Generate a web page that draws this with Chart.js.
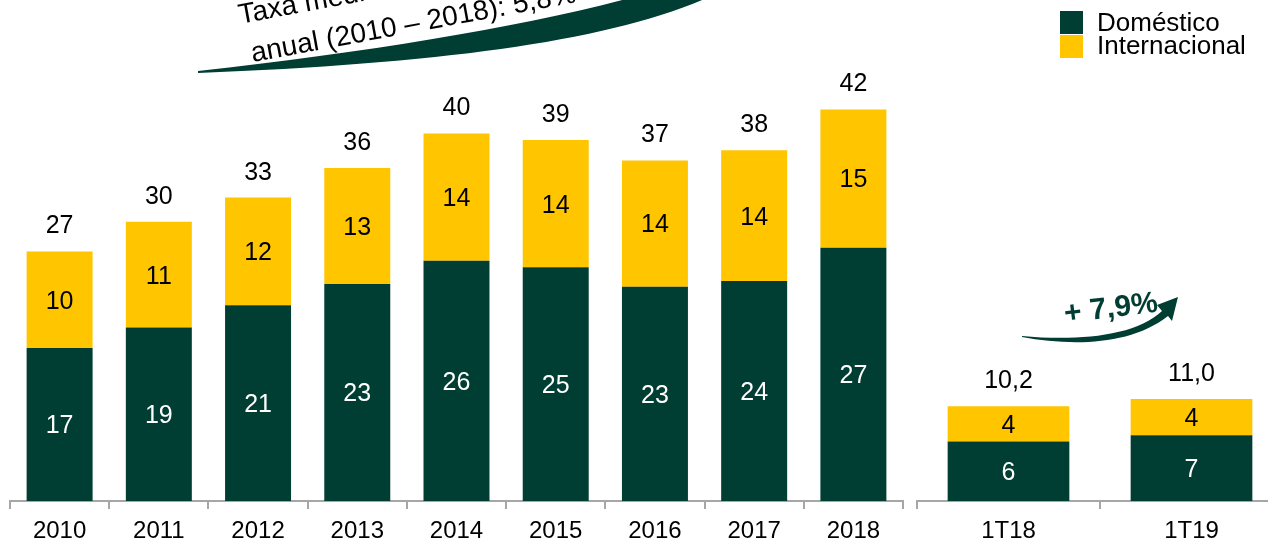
<!DOCTYPE html>
<html>
<head>
<meta charset="utf-8">
<script src="https://cdn.jsdelivr.net/npm/chart.js@4.4.1/dist/chart.umd.min.js"></script>
<style>
  html, body { margin: 0; padding: 0; background: #fff; overflow: hidden; width: 1268px; height: 539px; }
  #anual { position: absolute; left: 0; top: 0; }
  #trim { position: absolute; left: 900px; top: 0; }
</style>
</head>
<body>
<canvas id="anual" width="910" height="539"></canvas>
<canvas id="trim" width="400" height="539"></canvas>
<script>
// dados (bilhoes)
const anos = ["2010", "2011", "2012", "2013", "2014", "2015", "2016", "2017", "2018"];
const domesticoAno = [16.5, 18.7, 21.1, 23.4, 25.9, 25.2, 23.1, 23.7, 27.3];
const internacionalAno = [10.4, 11.4, 11.6, 12.5, 13.7, 13.7, 13.6, 14.1, 14.9];

const trimestres = ["1T18", "1T19"];
const domesticoTri = [6.4, 7.1];
const internacionalTri = [3.8, 3.9];

const textoTaxa = ["Taxa média de crescimento", "anual (2010 – 2018): 5,8%"];
const textoTri = "+ 7,9%";

const verde = '#003d33';
const amarelo = '#ffc600';
const fonte = '"Liberation Sans", Arial, sans-serif';

function makeRotulos(fmt) {
  return {
    id: 'rotulos',
    afterDatasetsDraw(chart) {
      const ctx = chart.ctx;
      ctx.save();
      ctx.font = '25px ' + fonte;
      ctx.textAlign = 'center';
      ctx.textBaseline = 'middle';
      chart.data.datasets.forEach((ds, di) => {
        const meta = chart.getDatasetMeta(di);
        meta.data.forEach((bar, i) => {
          const p = bar.getProps(['x', 'y', 'base'], true);
          ctx.fillStyle = ds.corTexto;
          ctx.fillText(String(Math.round(ds.data[i])), p.x, (p.y + p.base) / 2 + 2);
        });
      });
      const topo = chart.getDatasetMeta(chart.data.datasets.length - 1);
      topo.data.forEach((bar, i) => {
        const total = chart.data.datasets.reduce((s, ds) => s + ds.data[i], 0);
        ctx.fillStyle = '#000';
        ctx.fillText(fmt(total), bar.x, bar.y - 25);
      });
      ctx.restore();
    }
  };
}

// seta curva + texto da taxa anual
const taxaAnual = {
  id: 'taxaAnual',
  afterDraw(chart) {
    const ctx = chart.ctx;
    ctx.save();
    ctx.translate(415, 32);
    ctx.rotate(-10.5 * Math.PI / 180);
    ctx.font = '28px ' + fonte;
    ctx.fillStyle = '#000';
    ctx.textAlign = 'center';
    ctx.textBaseline = 'alphabetic';
    ctx.fillText(textoTaxa[0], 0, -40);
    ctx.fillText(textoTaxa[1], 0, 0);
    ctx.restore();

    ctx.save();
    ctx.fillStyle = verde;
    ctx.beginPath();
    ctx.moveTo(198, 73);
    ctx.bezierCurveTo(450, 63, 620, 40, 720, -8);
    ctx.lineTo(720, -30);
    ctx.bezierCurveTo(600, 14, 420, 46, 198, 71);
    ctx.closePath();
    ctx.fill();
    ctx.restore();
  }
};

// legenda + seta do trimestre
const extrasTri = {
  id: 'extrasTri',
  afterDraw(chart) {
    const ctx = chart.ctx;
    ctx.save();
    const ys = [11, 35];
    const yt = [24, 47];
    chart.data.datasets.forEach((ds, i) => {
      ctx.fillStyle = ds.backgroundColor;
      ctx.fillRect(160, ys[i], 23, 23);
      ctx.fillStyle = '#000';
      ctx.font = '26px ' + fonte;
      ctx.textAlign = 'left';
      ctx.textBaseline = 'middle';
      ctx.fillText(ds.label, 197, yt[i]);
    });

    ctx.fillStyle = verde;
    ctx.beginPath();
    ctx.moveTo(122, 337);
    ctx.bezierCurveTo(170, 346, 230, 346, 268, 316);
    ctx.lineTo(272, 321);
    ctx.lineTo(278, 297);
    ctx.lineTo(257, 305);
    ctx.lineTo(262, 311);
    ctx.bezierCurveTo(235, 337, 175, 341, 122, 336);
    ctx.closePath();
    ctx.fill();

    ctx.translate(211, 309);
    ctx.rotate(-7 * Math.PI / 180);
    ctx.font = 'bold 30px ' + fonte;
    ctx.textAlign = 'center';
    ctx.textBaseline = 'middle';
    ctx.fillText(textoTri, 0, 0);
    ctx.restore();
  }
};

function opcoes(padLeft, padRight) {
  return {
    responsive: false,
    animation: false,
    layout: { padding: { left: padLeft, right: padRight, top: 0, bottom: 0 } },
    plugins: { legend: { display: false }, tooltip: { enabled: false } },
    scales: {
      x: {
        stacked: true,
        afterFit: (scale) => { scale.height = 38; },
        grid: { offset: true, drawOnChartArea: false, drawTicks: true, tickLength: 8, color: '#a6a6a6', lineWidth: 2 },
        border: { display: true, color: '#a6a6a6', width: 2 },
        ticks: { padding: 8, color: '#000', font: { family: fonte, size: 24 } }
      },
      y: { stacked: true, display: false, min: 0, max: 54 }
    }
  };
}

function series(dom, intl) {
  return [
    { label: 'Doméstico', data: dom, backgroundColor: verde, corTexto: '#fff', categoryPercentage: 1, barPercentage: 0.665 },
    { label: 'Internacional', data: intl, backgroundColor: amarelo, corTexto: '#000', categoryPercentage: 1, barPercentage: 0.665 }
  ];
}

new Chart(document.getElementById('anual'), {
  type: 'bar',
  data: { labels: anos, datasets: series(domesticoAno, internacionalAno) },
  options: opcoes(10, 7),
  plugins: [makeRotulos(v => String(Math.round(v))), taxaAnual]
});

new Chart(document.getElementById('trim'), {
  type: 'bar',
  data: { labels: trimestres, datasets: series(domesticoTri, internacionalTri) },
  options: opcoes(17, 17),
  plugins: [makeRotulos(v => v.toFixed(1).replace('.', ',')), extrasTri]
});
</script>
</body>
</html>
